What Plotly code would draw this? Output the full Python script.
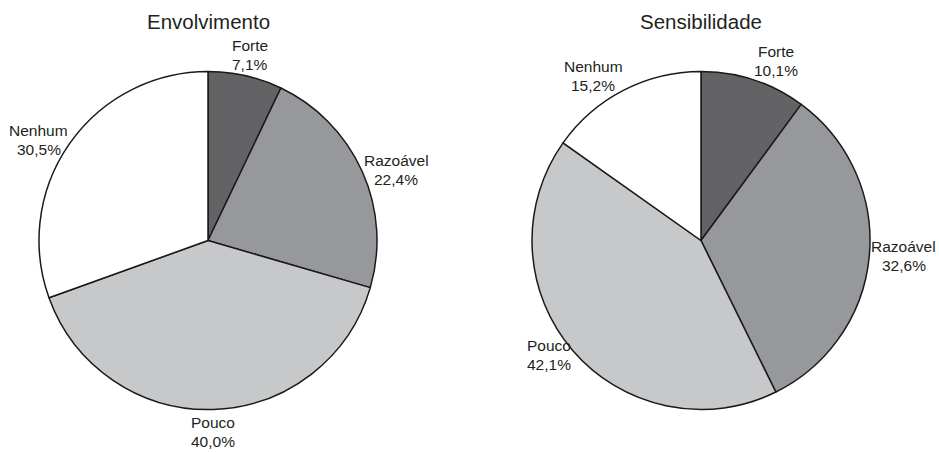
import math
import plotly.graph_objects as go

categories = ["Forte", "Razoável", "Pouco", "Nenhum"]
envolvimento = [7.1, 22.4, 40.0, 30.5]
sensibilidade = [10.1, 32.6, 42.1, 15.2]
titles = ["Envolvimento", "Sensibilidade"]
colors = ["#636365", "#97989b", "#c7c8ca", "#ffffff"]

W, H = 939, 452
R = 169
centers = [(208, 240.5), (701, 240.5)]
FONT = "Liberation Sans, Arial, Helvetica, sans-serif"
LBL = 15.5
TXT = "#231f20"

# approximate Arial advance widths (per 1000 em) used to size label boxes
CW = {",": 278, "%": 889, "F": 611, "r": 333, "t": 278, "R": 722, "z": 500,
      "v": 500, "l": 222, "P": 667, "c": 500, "N": 722, "m": 833}


def text_w(s):
    return sum(CW.get(ch, 556) for ch in s) / 1000 * LBL


def fmt(v):
    return f"{v:.1f}".replace(".", ",") + "%"


fig = go.Figure()
for vals, (cx, cy) in zip([envolvimento, sensibilidade], centers):
    cyb = H - cy
    fig.add_trace(go.Pie(
        labels=categories, values=vals, sort=False, direction="clockwise",
        rotation=0,
        marker=dict(colors=colors, line=dict(color="#1a1a1a", width=1.5)),
        textinfo="none",
        domain=dict(x=[(cx - R) / W, (cx + R) / W], y=[(cyb - R) / H, (cyb + R) / H]),
        showlegend=False, hoverinfo="label+value",
    ))
    # outside labels, positioned from each slice's mid-angle
    total = sum(vals)
    cum = 0.0
    for name, v in zip(categories, vals):
        th = 2 * math.pi * (cum + v / 2) / total
        cum += v
        ux, uy = math.sin(th), math.cos(th)
        w = max(text_w(name), text_w(fmt(v)))
        h = 42
        px = cx + (R + 2) * ux
        py = cy - (R + 2) * uy
        sx = math.copysign(min(1, max(0, (abs(ux) - 0.2) / 0.1)), ux)
        sy = math.copysign(abs(uy) ** 4, uy)
        bx = px + sx * w / 2
        by = py - sy * h / 2
        for txt, dy in ((name, -9.5), (fmt(v), 9.5)):
            fig.add_annotation(text=txt, x=bx / W, y=1 - (by + dy) / H,
                               xref="paper", yref="paper", xanchor="center",
                               yanchor="middle", showarrow=False,
                               font=dict(family=FONT, size=LBL, color=TXT))

for t, (cx, cy) in zip(titles, centers):
    fig.add_annotation(text=t, x=cx / W, y=1 - 21 / H, xref="paper", yref="paper",
                       xanchor="center", yanchor="middle", showarrow=False,
                       font=dict(family=FONT, size=20.5, color=TXT))

fig.update_layout(width=W, height=H, margin=dict(l=0, r=0, t=0, b=0),
                  paper_bgcolor="white", plot_bgcolor="white")
fig.write_html("out.html")
